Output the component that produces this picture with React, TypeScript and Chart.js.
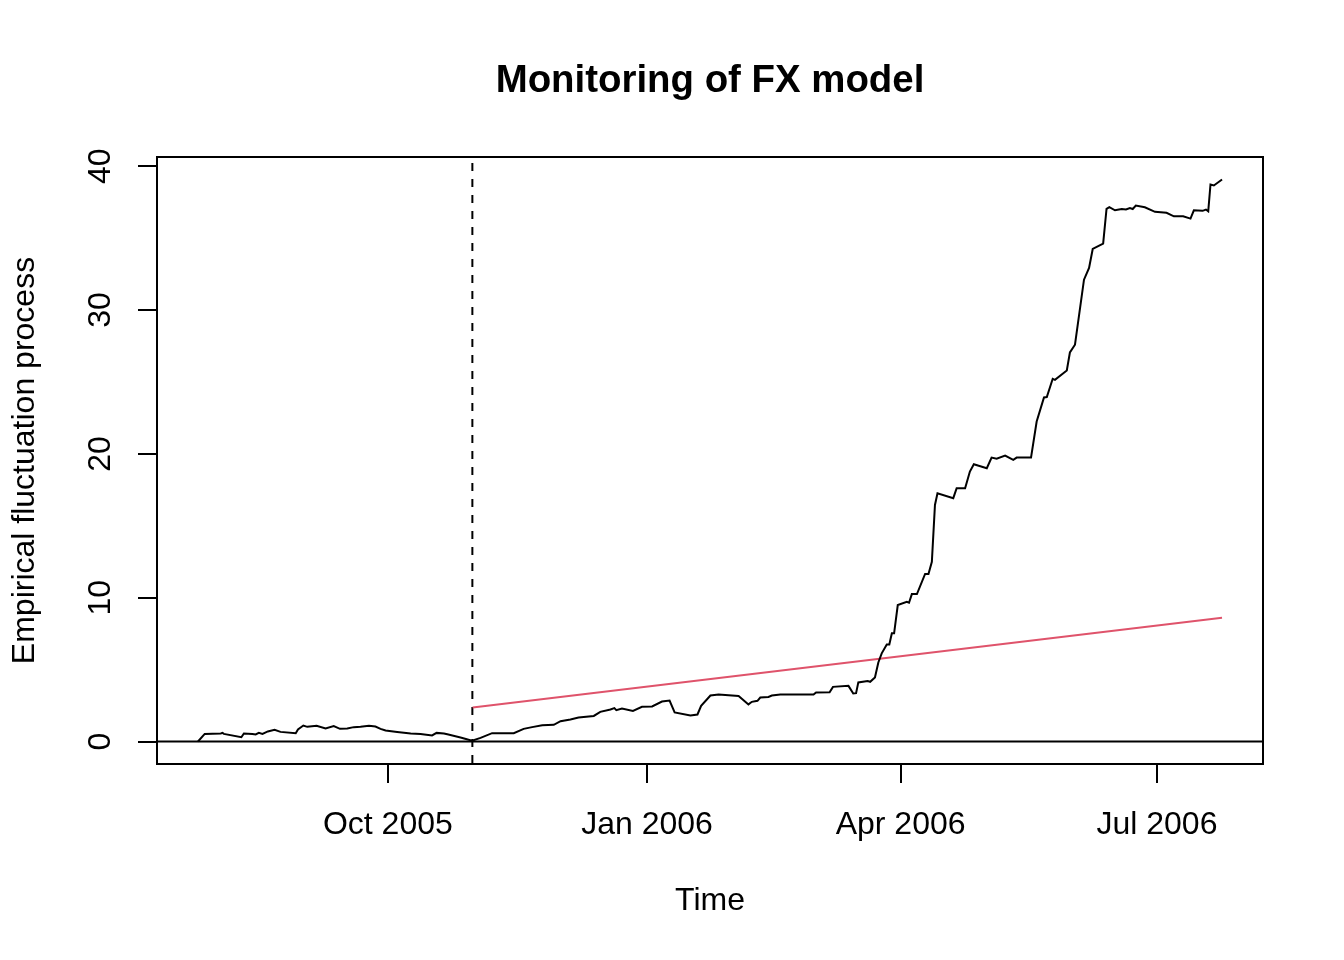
import { useEffect, useRef } from 'react';
import { Chart, registerables } from 'chart.js';

Chart.register(...registerables);

// days counted from 1 Oct 2005
const TICK_DAYS = [0, 92, 182, 273];
const TICK_LABELS = ['Oct 2005', 'Jan 2006', 'Apr 2006', 'Jul 2006'];
const Y_TICKS = [0, 10, 20, 30, 40];
const MONITOR_START = 30; // 31 Oct 2005

const FLUCT_DAYS = [
  -67.4, -65.0, -59.3, -58.7, -58.2, -52.0, -51.1, -48.1, -46.9, -45.8, -44.5, -42.6, -40.2, -38.1,
  -32.7, -31.9, -30.0, -28.6, -25.3, -22.1, -19.2, -17.0, -14.4, -12.1, -9.7, -6.7, -4.4, -2.6, -0.8,
  3.3, 8.1, 11.6, 15.7, 17.3, 19.9, 21.1, 25.8, 29.9, 32.9, 37.0, 44.7, 48.2, 51.2, 54.8, 58.9, 61.3,
  64.8, 67.7, 73.1, 75.4, 79.0, 80.4, 81.1, 83.1, 87.0, 90.2, 93.8, 97.3, 100.0, 101.8, 107.4, 109.9,
  111.2, 114.5, 117.4, 124.5, 128.0, 129.2, 131.2, 132.2, 135.1, 136.3, 139.3, 151.1, 152.0, 156.8,
  158.0, 163.5, 165.2, 166.2, 167.0, 170.3, 171.2, 172.9, 174.1, 175.3, 177.1, 178.0, 178.9, 179.7,
  181.0, 184.2, 185.0, 186.0, 187.8, 190.7, 191.9, 193.1, 194.2, 195.1, 200.7, 201.9, 204.9, 206.6,
  208.0, 212.6, 214.3, 216.1, 219.1, 222.0, 223.2, 228.3, 230.3, 232.9, 233.9, 236.0, 236.8, 241.0,
  242.1, 243.9, 247.1, 248.9, 250.2, 253.9, 255.1, 256.1, 258.1, 260.5, 262.0, 263.4, 264.4, 265.5,
  268.7, 272.3, 276.4, 279.0, 282.3, 284.9, 286.1, 289.2, 290.4, 291.2, 292.0, 293.2, 296.1,
];
const FLUCT_VALUES = [
  0.0, 0.53, 0.56, 0.6, 0.53, 0.3, 0.56, 0.53, 0.49, 0.6, 0.53, 0.7, 0.81, 0.67,
  0.58, 0.84, 1.11, 1.02, 1.09, 0.9, 1.07, 0.88, 0.9, 1.0, 1.02, 1.09, 1.04, 0.88, 0.77,
  0.67, 0.56, 0.53, 0.42, 0.6, 0.56, 0.51, 0.28, 0.05, 0.25, 0.58, 0.58, 0.88, 1.0, 1.13, 1.16, 1.41,
  1.53, 1.67, 1.78, 2.06, 2.23, 2.32, 2.18, 2.3, 2.13, 2.41, 2.44, 2.78, 2.85, 2.02, 1.81, 1.88,
  2.48, 3.2, 3.27, 3.17, 2.58, 2.76, 2.83, 3.06, 3.1, 3.2, 3.27, 3.27, 3.41, 3.43,
  3.8, 3.87, 3.34, 3.36, 4.11, 4.2, 4.15, 4.46, 5.5, 6.13, 6.75, 6.75, 7.52, 7.52,
  9.49, 9.72, 9.65, 10.25, 10.25, 11.65, 11.65, 12.5, 16.45, 17.26, 16.92, 17.61, 17.61, 18.77,
  19.28, 19.0, 19.74, 19.67, 19.88, 19.58, 19.74, 19.74, 22.25, 23.92, 23.95, 25.22, 25.15, 25.8,
  27.05, 27.59, 32.11, 32.93, 34.25, 34.62, 37.03, 37.15, 36.94, 37.03, 36.99, 37.1, 37.03, 37.27,
  37.15, 36.83, 36.76, 36.52, 36.52, 36.36, 36.94, 36.9, 36.99, 36.87, 38.73, 38.66, 39.08,
];

const BOUNDARY_DAYS = [30.1, 296.1];
const BOUNDARY_VALUES = [2.37, 8.6];

const FONT = "'Liberation Sans', Arial, Helvetica, sans-serif";

// R-like axis ranges: data range plus 4% on each side
function padRange(lo: number, hi: number) {
  const d = (hi - lo) * 0.04;
  return [lo - d, hi + d];
}

const rPlotPlugin = {
  id: 'rPlot',
  beforeDatasetsDraw(chart: any) {
    const { ctx, chartArea: a, scales } = chart;
    ctx.save();
    ctx.strokeStyle = '#000';
    ctx.lineWidth = 2;
    const y0 = scales.y.getPixelForValue(0);
    ctx.beginPath();
    ctx.moveTo(a.left, y0);
    ctx.lineTo(a.right, y0);
    ctx.stroke();
    const xs = scales.x.getPixelForValue(MONITOR_START);
    ctx.setLineDash([8, 8]);
    ctx.lineDashOffset = 10;
    ctx.beginPath();
    ctx.moveTo(xs, a.top);
    ctx.lineTo(xs, a.bottom);
    ctx.stroke();
    ctx.restore();
  },
  afterDraw(chart: any) {
    const { ctx, chartArea: a } = chart;
    ctx.save();
    ctx.strokeStyle = '#000';
    ctx.lineWidth = 2;
    ctx.strokeRect(a.left, a.top, a.right - a.left, a.bottom - a.top);
    ctx.fillStyle = '#000';
    ctx.font = `bold 38.4px ${FONT}`;
    ctx.textAlign = 'center';
    ctx.textBaseline = 'middle';
    ctx.fillText('Monitoring of FX model', (a.left + a.right) / 2, 81);
    ctx.restore();
  },
};

export default function App() {
  const canvasRef = useRef<HTMLCanvasElement>(null);
  const chartRef = useRef<Chart | null>(null);

  useEffect(() => {
    document.body.style.margin = '0';
    if (!canvasRef.current) return;
    if (chartRef.current) chartRef.current.destroy();

    const [xMin, xMax] = padRange(Math.min(...FLUCT_DAYS), Math.max(...FLUCT_DAYS));
    const [yMin, yMax] = padRange(0, Math.max(...FLUCT_VALUES));
    const tickFont = { family: FONT, size: 32 };

    chartRef.current = new Chart(canvasRef.current, {
      type: 'line',
      data: {
        datasets: [
          {
            label: 'Empirical fluctuation process',
            data: FLUCT_DAYS.map((d, i) => ({ x: d, y: FLUCT_VALUES[i] })),
            borderColor: '#000000',
            borderWidth: 2,
            pointRadius: 0,
            tension: 0,
          },
          {
            label: 'Boundary',
            data: BOUNDARY_DAYS.map((d, i) => ({ x: d, y: BOUNDARY_VALUES[i] })),
            borderColor: '#DF536B',
            borderWidth: 2,
            pointRadius: 0,
            tension: 0,
          },
        ],
      },
      options: {
        responsive: false,
        animation: false,
        events: [],
        layout: { padding: { top: 157, right: 81, left: 0, bottom: 0 } },
        plugins: {
          legend: { display: false },
          tooltip: { enabled: false },
          title: { display: false },
        },
        scales: {
          x: {
            type: 'linear',
            min: xMin,
            max: xMax,
            afterBuildTicks: (s: any) => {
              s.ticks = TICK_DAYS.map((v) => ({ value: v }));
            },
            afterFit: (s: any) => {
              s.height = 196;
            },
            ticks: {
              autoSkip: false,
              minRotation: 0,
              maxRotation: 0,
              padding: 23,
              color: '#000',
              font: tickFont,
              callback: (_v: any, i: number) => TICK_LABELS[i],
            },
            grid: { drawOnChartArea: false, drawTicks: true, tickLength: 19, color: '#000', lineWidth: 2 },
            border: { display: false },
            title: { display: true, text: 'Time', color: '#000', font: tickFont, padding: { top: 0, bottom: 40 } },
          },
          y: {
            type: 'linear',
            min: yMin,
            max: yMax,
            afterBuildTicks: (s: any) => {
              s.ticks = Y_TICKS.map((v) => ({ value: v }));
            },
            afterFit: (s: any) => {
              s.width = 157;
            },
            ticks: {
              autoSkip: false,
              minRotation: 90,
              maxRotation: 90,
              crossAlign: 'center',
              padding: 19.5,
              color: '#000',
              font: tickFont,
            },
            grid: { drawOnChartArea: false, drawTicks: true, tickLength: 19, color: '#000', lineWidth: 2 },
            border: { display: false },
            title: {
              display: true,
              text: 'Empirical fluctuation process',
              color: '#000',
              font: tickFont,
              padding: { top: 6, bottom: 0 },
            },
          },
        },
      },
      plugins: [rPlotPlugin],
    } as any);

    return () => {
      if (chartRef.current) chartRef.current.destroy();
      chartRef.current = null;
    };
  }, []);

  return (
    <div style={{ width: 1344, height: 960, background: '#fff' }}>
      <canvas ref={canvasRef} width={1344} height={960} />
    </div>
  );
}
